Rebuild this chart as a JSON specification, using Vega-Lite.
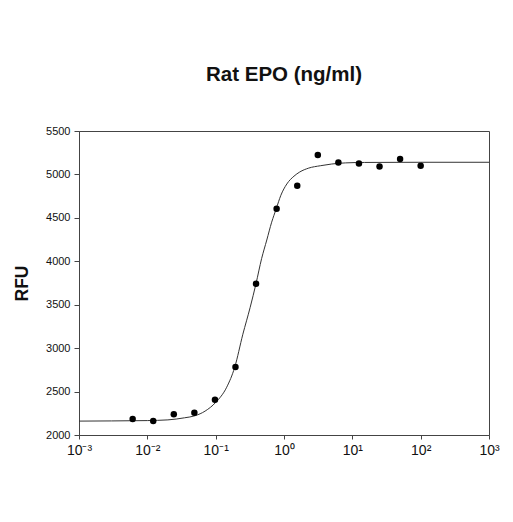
{
  "$schema": "https://vega.github.io/schema/vega-lite/v6.json",
  "autosize": "none",
  "width": 410,
  "height": 304,
  "padding": {"left": 79, "top": 131, "right": 24, "bottom": 87},
  "background": "white",
  "config": {
    "font": "Liberation Sans",
    "view": {"stroke": "#444", "strokeWidth": 1},
    "axis": {"grid": false, "domainColor": "#444", "tickColor": "#444", "labelColor": "#111", "labelFont": "Liberation Sans"}
  },
  "title": {"text": "Rat EPO (ng/ml)", "fontSize": 20.5, "fontWeight": "bold", "font": "Liberation Sans", "color": "#111", "anchor": "middle", "offset": 40},
  "datasets": {
    "points": [
      {"dose": 0.0061, "rfu": 2185},
      {"dose": 0.0122, "rfu": 2160},
      {"dose": 0.0244, "rfu": 2238},
      {"dose": 0.0488, "rfu": 2255},
      {"dose": 0.0977, "rfu": 2405},
      {"dose": 0.195, "rfu": 2783},
      {"dose": 0.39, "rfu": 3742},
      {"dose": 0.78, "rfu": 4604},
      {"dose": 1.5625, "rfu": 4869},
      {"dose": 3.125, "rfu": 5223},
      {"dose": 6.25, "rfu": 5138},
      {"dose": 12.5, "rfu": 5127},
      {"dose": 25, "rfu": 5092},
      {"dose": 50, "rfu": 5177},
      {"dose": 100, "rfu": 5100}
    ],
    "curve": [
      {"dose": 0.001, "rfu": 2160},
      {"dose": 0.003, "rfu": 2162},
      {"dose": 0.01, "rfu": 2166},
      {"dose": 0.02, "rfu": 2174},
      {"dose": 0.035, "rfu": 2198},
      {"dose": 0.05, "rfu": 2222},
      {"dose": 0.07, "rfu": 2275},
      {"dose": 0.1, "rfu": 2375},
      {"dose": 0.145, "rfu": 2550},
      {"dose": 0.19, "rfu": 2780},
      {"dose": 0.25, "rfu": 3160},
      {"dose": 0.32, "rfu": 3470},
      {"dose": 0.39, "rfu": 3745},
      {"dose": 0.47, "rfu": 4030},
      {"dose": 0.56, "rfu": 4245},
      {"dose": 0.66, "rfu": 4450},
      {"dose": 0.77, "rfu": 4605},
      {"dose": 0.9, "rfu": 4760},
      {"dose": 1.1, "rfu": 4890},
      {"dose": 1.4, "rfu": 4980},
      {"dose": 1.7, "rfu": 5028},
      {"dose": 2.3, "rfu": 5073},
      {"dose": 3.4, "rfu": 5100},
      {"dose": 5, "rfu": 5120},
      {"dose": 8, "rfu": 5133},
      {"dose": 15, "rfu": 5138},
      {"dose": 100, "rfu": 5140},
      {"dose": 1000, "rfu": 5140}
    ]
  },
  "layer": [
    {
      "data": {"name": "curve"},
      "mark": {"type": "line", "color": "#333", "strokeWidth": 1, "interpolate": "monotone", "clip": true},
      "encoding": {
        "x": {
          "field": "dose", "type": "quantitative",
          "scale": {"type": "log", "domain": [0.001, 1000], "nice": false},
          "axis": {
            "title": null,
            "values": [0.001, 0.01, 0.1, 1, 10, 100, 1000],
            "labelExpr": "datum.value < 0.005 ? '10⁻³' : datum.value < 0.05 ? '10⁻²' : datum.value < 0.5 ? '10⁻¹' : datum.value < 5 ? '10⁰' : datum.value < 50 ? '10¹' : datum.value < 500 ? '10²' : '10³'",
            "labelFontSize": 14,
            "labelPadding": 4,
            "tickSize": 4,
            "labelFlush": false
          }
        },
        "y": {
          "field": "rfu", "type": "quantitative",
          "scale": {"domain": [2000, 5500], "nice": false, "zero": false},
          "axis": {
            "title": "RFU",
            "format": "d",
            "titleFontSize": 17.5,
            "titleFontWeight": "bold",
            "titleColor": "#111",
            "titlePadding": 14,
            "values": [2000, 2500, 3000, 3500, 4000, 4500, 5000, 5500],
            "labelFontSize": 11,
            "labelPadding": 4,
            "tickSize": 5
          }
        }
      }
    },
    {
      "data": {"name": "points"},
      "mark": {"type": "point", "filled": true, "color": "#000", "opacity": 1, "size": 42},
      "encoding": {
        "x": {"field": "dose", "type": "quantitative"},
        "y": {"field": "rfu", "type": "quantitative"}
      }
    }
  ]
}
